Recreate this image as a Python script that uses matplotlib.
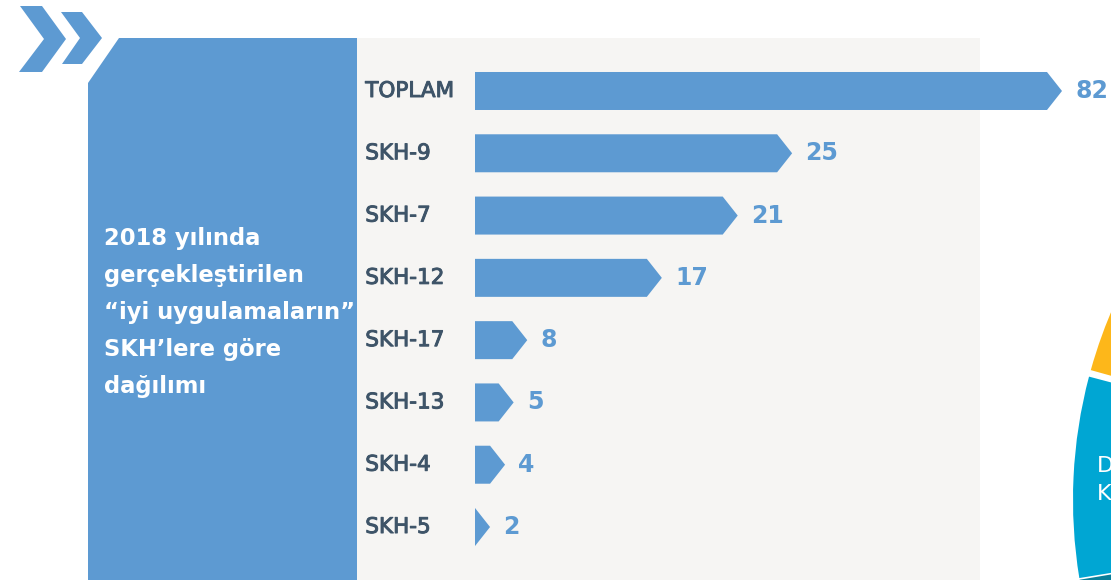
import matplotlib
matplotlib.use("Agg")
import matplotlib.pyplot as plt
import matplotlib.patheffects as pe
from matplotlib.patches import Polygon, Rectangle, Wedge

# data
categories = ["TOPLAM", "SKH-9", "SKH-7", "SKH-12", "SKH-17", "SKH-13", "SKH-4", "SKH-5"]
values = [82, 25, 21, 17, 8, 5, 4, 2]
# the infographic does not draw bars to scale, these are the drawn lengths (in value units)
drawn_len = [82, 44.3, 36.7, 26.1, 7.3, 5.4, 4.2, 2.1]
title_lines = ["2018 yılında", "gerçekleştirilen", "“iyi uygulamaların”",
               "SKH’lere göre", "dağılımı"]

BLUE = "#5D9AD2"
GRAY_BG = "#F6F5F3"
LABEL = "#3E5468"
W, H = 1111, 580

plt.rcParams['font.family'] = ['DejaVu Sans']
fig = plt.figure(figsize=(W / 100, H / 100), dpi=100)

# background decoration layer, pixel units
bg = fig.add_axes([0, 0, 1, 1])
bg.set_xlim(0, W)
bg.set_ylim(0, H)
bg.axis("off")

def fy(y):
    return H - y

bg.add_patch(Rectangle((357, 0), 623, fy(38), color=GRAY_BG, lw=0))
bg.add_patch(Polygon([(88, fy(83)), (119, fy(38)), (357, fy(38)), (357, 0), (88, 0)],
                     closed=True, color=BLUE, lw=0))
# chevrons
bg.add_patch(Polygon([(20, fy(6)), (42, fy(6)), (66, fy(39)), (42, fy(72)), (19, fy(72)), (44, fy(39))],
                     closed=True, color=BLUE, lw=0))
bg.add_patch(Polygon([(61, fy(12)), (82, fy(12)), (102, fy(38)), (82, fy(64)), (62, fy(64)), (80, fy(38))],
                     closed=True, color=BLUE, lw=0))
# neighbouring pie chart, cut by the page edge
cx, cy, R = 1556, fy(500), 483
bg.add_patch(Wedge((cx, cy), R, 130, 164.4, color="#FDB71A", lw=0))
bg.add_patch(Wedge((cx, cy), R, 165.2, 189.3, color="#00A6D3", lw=0))
bg.add_patch(Wedge((cx, cy), R, 189.5, 215, color="#0A7F99", lw=0))
bg.text(1097, fy(472), "D", color="white", fontsize=16, va="baseline")
bg.text(1097, fy(500), "K", color="white", fontsize=16, va="baseline")

for i, line in enumerate(title_lines):
    bg.text(104, fy(245 + 37 * i), line, color="white", fontsize=16.3,
            fontweight="bold", va="baseline", ha="left")

# bar axes
left_px, right_px = 475, W
top_px, bot_px = 91 - 31.15, 527 + 31.15
ax = fig.add_axes([left_px / W, 1 - bot_px / H, (right_px - left_px) / W, (bot_px - top_px) / H])
ax.patch.set_alpha(0)
ax.axis("off")
scale = 82 / 587  # value units per pixel
ax.set_xlim(0, (right_px - left_px) * scale)
ax.set_ylim(len(categories) - 0.5, -0.5)

bar_h = 0.61
tip = 15 * scale
medium = [pe.withStroke(linewidth=0.7, foreground=LABEL)]
for i, (cat, val, ln) in enumerate(zip(categories, values, drawn_len)):
    body = max(ln - tip, 0)
    pts = [(0, i - bar_h / 2), (body, i - bar_h / 2), (ln, i),
           (body, i + bar_h / 2), (0, i + bar_h / 2)]
    ax.add_patch(Polygon(pts, closed=True, color=BLUE, lw=0))
    ax.annotate(str(val), (ln, i), xytext=(9.5, 0), textcoords="offset points",
                color=BLUE, fontsize=17, fontweight="bold", va="center", ha="left",
                annotation_clip=False)
    ax.annotate(cat, (0, i), xytext=(-79, 0), textcoords="offset points",
                color=LABEL, fontsize=15.5, va="center", ha="left",
                annotation_clip=False, path_effects=medium)

fig.savefig("out.png", dpi=100)
